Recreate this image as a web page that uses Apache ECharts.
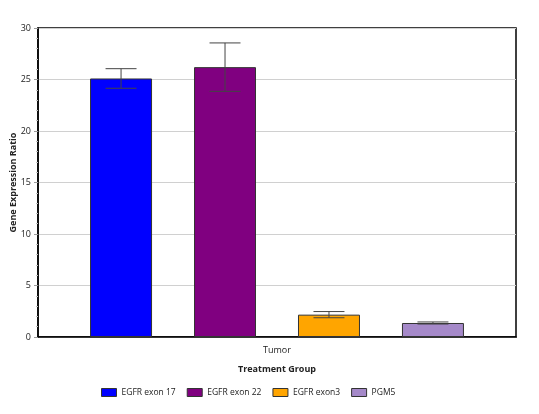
<!DOCTYPE html>
<html><head><meta charset="utf-8">
<script src="https://cdn.jsdelivr.net/npm/echarts@6/dist/echarts.min.js"></script>
<style>html,body{margin:0;padding:0;background:#fff}#c{width:539px;height:414px}</style>
</head><body><div id="c"></div>
<script>
var categories = ['Tumor'];
var seriesNames = ['EGFR exon 17', 'EGFR exon 22', 'EGFR exon3', 'PGM5'];
var seriesColors = ['#0000FF', '#800080', '#FFA500', '#A589C9'];
var means = [25.1, 26.2, 2.17, 1.36];
var errors = [0.95, 2.35, 0.3, 0.1];
var yTicks = [0, 5, 10, 15, 20, 25, 30];

var FONT = 'Open Sans';
var BAR_RATIO = 0.1297, GAP_RATIO = 0.677;
var chart = echarts.init(document.getElementById('c'));
var series = [];
seriesNames.forEach(function (n, i) {
  series.push({
    name: n, type: 'bar', data: [means[i]],
    barWidth: (BAR_RATIO * 100) + '%', barGap: (GAP_RATIO * 100) + '%',
    itemStyle: { color: seriesColors[i], borderColor: '#333', borderWidth: 1 }
  });
});
series.push({
  type: 'custom', name: 'err', silent: true, z: 10,
  data: seriesNames.map(function (n, i) { return [0, means[i] - errors[i], means[i] + errors[i], i]; }),
  renderItem: function (params, api) {
    var band = api.size([1, 0])[0];
    var bw = band * BAR_RATIO, gap = bw * GAP_RATIO;
    var idx = api.value(3);
    var off = (idx - 1.5) * (bw + gap);
    var lo = api.coord([api.value(0), api.value(1)]);
    var hi = api.coord([api.value(0), api.value(2)]);
    var x = lo[0] + off, cap = bw * 0.25;
    var st = { stroke: '#444', lineWidth: 1 };
    return { type: 'group', children: [
      { type: 'line', shape: { x1: x, y1: lo[1], x2: x, y2: hi[1] }, style: st },
      { type: 'line', shape: { x1: x - cap, y1: lo[1], x2: x + cap, y2: lo[1] }, style: st },
      { type: 'line', shape: { x1: x - cap, y1: hi[1], x2: x + cap, y2: hi[1] }, style: st }
    ]};
  }
});
chart.setOption({
  animation: false,
  textStyle: { fontFamily: FONT },
  grid: { left: 38, right: 23, top: 28, bottom: 77, show: true, borderColor: '#000', borderWidth: 1.5, backgroundColor: 'transparent', containLabel: false, outerBoundsMode: 'none' },
  legend: {
    data: seriesNames, bottom: 12, left: 96, itemWidth: 15, itemHeight: 8, itemGap: 11,
    icon: 'rect',
    itemStyle: { borderColor: '#333', borderWidth: 1 },
    textStyle: { fontSize: 8.5, color: '#222', fontFamily: FONT }
  },
  xAxis: {
    type: 'category', data: categories,
    name: 'Treatment Group', nameLocation: 'middle', nameGap: 28,
    nameTextStyle: { fontSize: 9, fontWeight: 'bold', color: '#222' },
    axisLine: { lineStyle: { color: '#000', width: 1.5 } },
    axisTick: { alignWithLabel: true, length: 4, lineStyle: { color: '#555' } },
    axisLabel: { fontSize: 9, color: '#222', margin: 9 }
  },
  yAxis: {
    type: 'value', min: yTicks[0], max: yTicks[yTicks.length - 1], interval: yTicks[1] - yTicks[0],
    name: 'Gene Expression Ratio', nameLocation: 'middle', nameGap: 20, nameMoveOverlap: false,
    nameTextStyle: { fontSize: 9, fontWeight: 'bold', color: '#222' },
    axisLine: { show: true, lineStyle: { color: '#000', width: 1.5 } },
    axisTick: { show: true, length: 4, lineStyle: { color: '#999' } },
    minorTick: { show: true, splitNumber: 5, length: 2, lineStyle: { color: '#bbb' } },
    axisLabel: { fontSize: 9, color: '#222', margin: 7 },
    splitLine: { lineStyle: { color: '#d0d0d0', width: 1 } }
  },
  series: series
});
</script></body></html>
